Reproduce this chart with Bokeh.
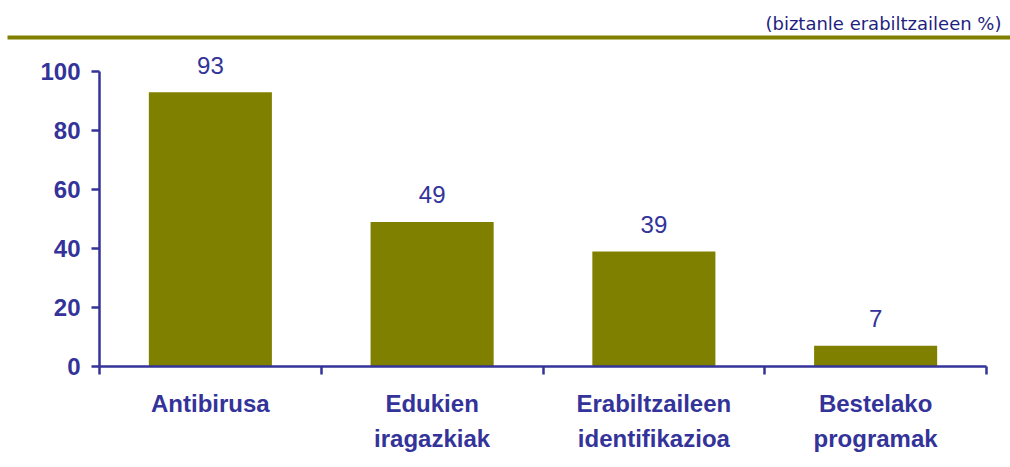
from bokeh.plotting import figure
from bokeh.models import FixedTicker, ColumnDataSource, Range1d
from bokeh.core.properties import value
from bokeh.embed import file_html
from bokeh.resources import INLINE

categories = ["Antibirusa", "Edukien\niragazkiak", "Erabiltzaileen\nidentifikazioa", "Bestelako\nprogramak"]
values = [93, 49, 39, 7]
y_ticks = [0, 20, 40, 60, 80, 100]
subtitle = "(biztanle erabiltzaileen %)"

AXIS = "#333399"
OLIVE = "#808000"

W, H = 1010, 467
# pixel placement of the plotting area (axis origin / extents)
X0_PX, X4_PX = 99, 986      # x = 0 and x = 4
Y0_PX, Y100_PX = 366, 71    # y = 0 and y = 100
n = len(categories)
sx = (X4_PX - X0_PX) / n
sy = (Y0_PX - Y100_PX) / 100.0

def px_x(px):
    return (px - X0_PX) / sx

def px_y(py):
    return (Y0_PX - py) / sy

xs = [i + 0.5 for i in range(n)]
src = ColumnDataSource(dict(x=xs, top=values, label=[str(v) for v in values]))

p = figure(width=W, height=H, output_backend="svg", toolbar_location=None,
           x_range=Range1d(px_x(0), px_x(W)), y_range=Range1d(px_y(H), px_y(0)),
           min_border=0, min_border_left=0, min_border_right=0,
           min_border_top=0, min_border_bottom=0)
p.grid.visible = False
p.outline_line_color = None

p.vbar(x="x", top="top", width=0.555, bottom=0, source=src, fill_color=OLIVE, line_color=None)
p.text(x="x", y="top", text="label", source=src, y_offset=-27, text_align="center",
       text_baseline="alphabetic", text_font=value("Liberation Sans"), text_font_size="24px",
       text_color=AXIS)

# header rule and subtitle
p.segment(x0=[px_x(7)], y0=[px_y(37)], x1=[px_x(W)], y1=[px_y(37)], line_color=OLIVE, line_width=4)
p.text(x=[px_x(1001)], y=[px_y(23)], text=[subtitle], text_align="right", text_baseline="alphabetic",
       text_font=value("DejaVu Sans"), text_font_size="18px", text_color="#1f1f80")

# y axis
p.yaxis.fixed_location = 0
p.yaxis.ticker = FixedTicker(ticks=y_ticks)
p.yaxis.bounds = (0, 100)
p.yaxis.axis_line_color = AXIS
p.yaxis.axis_line_width = 2.5
p.yaxis.major_tick_line_color = AXIS
p.yaxis.major_tick_line_width = 2.5
p.yaxis.major_tick_out = 8
p.yaxis.major_tick_in = 0
p.yaxis.minor_tick_line_color = None
p.yaxis.major_label_standoff = 11
p.yaxis.major_label_text_font = "Liberation Sans"
p.yaxis.major_label_text_font_style = "bold"
p.yaxis.major_label_text_font_size = "24px"
p.yaxis.major_label_text_color = AXIS

# x axis
p.xaxis.fixed_location = 0
p.xaxis.ticker = FixedTicker(ticks=xs, minor_ticks=list(range(n + 1)))
p.xaxis.bounds = (0, n)
p.xaxis.major_label_overrides = {x: c for x, c in zip(xs, categories)}
p.xaxis.axis_line_color = AXIS
p.xaxis.axis_line_width = 2.5
p.xaxis.major_tick_line_color = None
p.xaxis.major_tick_out = 0
p.xaxis.major_tick_in = 0
p.xaxis.minor_tick_line_color = AXIS
p.xaxis.minor_tick_line_width = 2.5
p.xaxis.minor_tick_out = 8
p.xaxis.minor_tick_in = 0
p.xaxis.major_label_standoff = 15
p.xaxis.major_label_text_font = "Liberation Sans"
p.xaxis.major_label_text_font_style = "bold"
p.xaxis.major_label_text_font_size = "24px"
p.xaxis.major_label_text_color = AXIS
p.xaxis.major_label_text_line_height = 1.3

open("out.html", "w").write(file_html(p, INLINE))
